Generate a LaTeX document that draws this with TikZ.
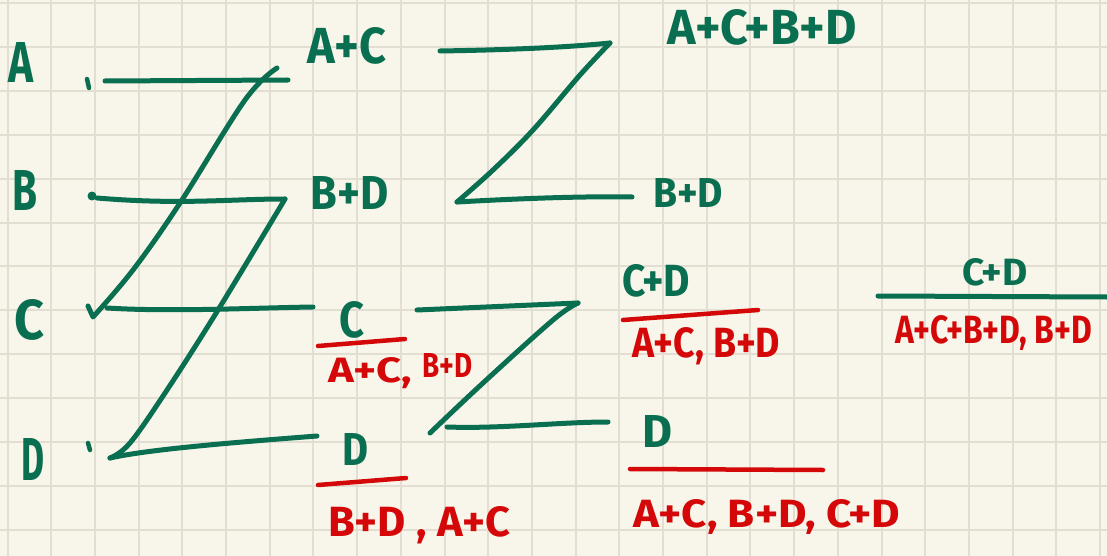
\documentclass[tikz,border=0pt]{standalone}
\usepackage{fontspec}
\setmainfont{Fira Sans}
\definecolor{paper}{RGB}{248,246,234}
\definecolor{gridc}{RGB}{226,223,210}
\definecolor{ink}{RGB}{10,110,80}
\definecolor{redink}{RGB}{212,8,8}
\newcommand{\fitt}[3]{\resizebox{#1pt}{#2pt}{#3}}
\begin{document}
\begin{tikzpicture}[x=1pt,y=-1pt,
  gline/.style={draw=ink,line width=5pt,line cap=round,line join=round},
  rline/.style={draw=redink,line width=4.5pt,line cap=round},
  glab/.style={text=ink,inner sep=0pt,anchor=center,font=\bfseries},
  rlab/.style={text=redink,inner sep=0pt,anchor=base west,font=\bfseries},
  gridline/.style={draw=gridc,line width=2pt}]
\fill[paper] (0,0) rectangle (1107,556);
\useasboundingbox (0,0) rectangle (1107,556);
\foreach \i in {0,...,25} \draw[gridline] ({7.5+43.7*\i},0) -- ({7.5+43.7*\i},556);
\foreach \j in {0,...,12} \draw[gridline] (0,{3.3+43.85*\j}) -- (1107,{3.3+43.85*\j});

% left labels
\node[glab] (lA) at (21,63) {\fitt{25}{40}{A}};
\node[glab] (lB) at (25,190) {\fitt{25}{40}{B}};
\node[glab] (lC) at (30,320) {\fitt{30}{40}{C}};
\node[glab] (lD) at (33,459) {\fitt{23}{42}{D}};

% input marks
\draw[gline,line width=4.5pt] (87,79) -- (89,88);
\fill[ink] (92,196) circle (4.5);
\draw[gline,line width=4.5pt] (88,443) -- (90,450);

% green labels
\node[glab] (nAC) at (347,46) {\fitt{79}{36}{A+C}};
\node[glab] (nBD) at (350,193) {\fitt{78}{33}{B+D}};
\node[glab] (nC) at (352,320) {\fitt{25}{36}{C}};
\node[glab] (nD) at (355,449) {\fitt{26}{32}{D}};
\node[glab] (nABCD) at (762,27) {\fitt{190}{35}{A+C+B+D}};
\node[glab] (nBD2) at (688,193) {\fitt{70}{29}{B+D}};
\node[glab] (nCD) at (656,281) {\fitt{68}{32}{C+D}};
\node[glab] (nD2) at (657,431) {\fitt{30}{32}{D}};
\node[glab] (nCD2) at (995,272) {\fitt{65}{27}{C+D}};

% red labels
\node[rlab] (r1) at (328,382) {\fitt{84}{25}{A+C,}};
\node[rlab] (r2) at (422,377) {\fitt{50}{24}{B+D}};
\node[rlab] (r3) at (328,536) {\fitt{182}{30}{B+D , A+C}};
\node[rlab] (r4) at (632,357) {\fitt{148}{30}{A+C, B+D}};
\node[rlab] (r5) at (633,527) {\fitt{267}{28}{A+C, B+D, C+D}};
\node[rlab] (r6) at (895,343) {\fitt{197}{28}{A+C+B+D, B+D}};

% fraction bars
\draw[rline] (318,346) -- (405,339);
\draw[rline] (318,485) -- (406,478);
\draw[rline] (623,320) -- (758,310);
\draw[rline] (630,469) -- (823,470);
\draw[gline] (878,296) -- (1107,297);

% stage 1 butterflies
\coordinate (a0) at (105,81);  \coordinate (a1) at (288,80);
\coordinate (c0) at (107,308); \coordinate (c1) at (313,307);
\coordinate (b0) at (97,198);  \coordinate (b1) at (285,199);
\coordinate (d0) at (110,458); \coordinate (d1) at (317,436);
\draw[gline] (a0) -- (a1);
\draw[gline] plot[smooth,tension=0.6] coordinates {(277,68) (245,100) (180,203) (133,270) (93,317)} -- (88,306);
\draw[gline] (c0) .. controls (170,312) and (250,308) .. (c1);
\draw[gline] (b0) .. controls (180,205) and (230,199) .. (b1);
\draw[gline] plot[smooth,tension=0.6] coordinates {(285,199) (218,310) (167,390) (130,443) (110,458)};
\draw[gline] (d0) .. controls (150,449) and (240,442) .. (d1);

% stage 2
\coordinate (e0) at (440,51);  \coordinate (e1) at (610,43);
\coordinate (f0) at (457,202); \coordinate (f1) at (632,197);
\draw[gline] (e0) .. controls (500,50) and (560,48) .. (e1);
\draw[gline] plot[smooth,tension=0.6] coordinates {(610,43) (580,75) (533,130) (493,170) (457,202)};
\draw[gline] (f0) .. controls (510,199) and (580,196) .. (f1);

\coordinate (g0) at (417,310); \coordinate (g1) at (578,303);
\coordinate (h0) at (447,427); \coordinate (h1) at (608,422);
\draw[gline] (g0) -- (g1);
\draw[gline] plot[smooth,tension=0.6] coordinates {(578,303) (553,320) (483,383) (430,433)};
\draw[gline] (h0) .. controls (500,429) and (560,422) .. (h1);
\end{tikzpicture}
\end{document}
